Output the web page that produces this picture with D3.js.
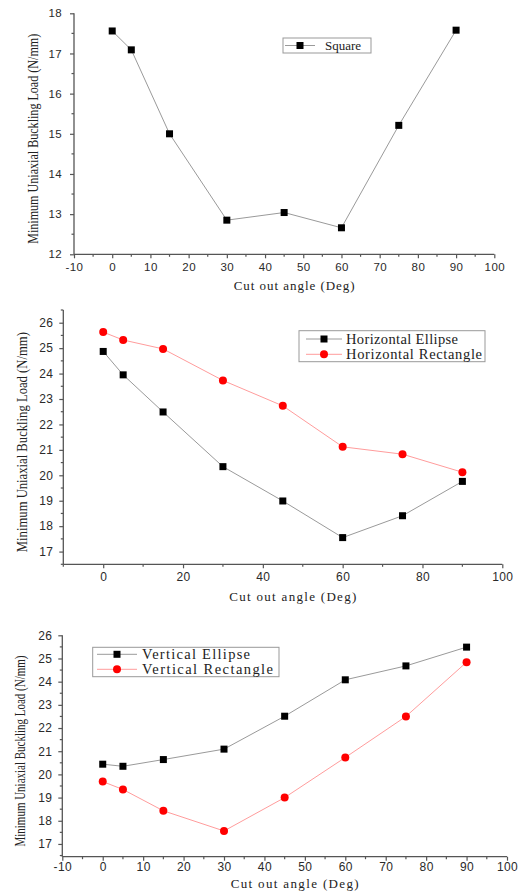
<!DOCTYPE html>
<html>
<head>
<meta charset="utf-8">
<script src="https://cdn.jsdelivr.net/npm/d3@7"></script>
<style>
body { margin: 0; background: #fff; }
.tick-label { font-family: "Liberation Sans", Arial, sans-serif; fill: #2a2a2a; letter-spacing: 0.4px; }
.title { font-family: "Liberation Serif", "Times New Roman", serif; fill: #222; }
</style>
</head>
<body>
<svg id="chart" width="523" height="891"></svg>
<script>
// data
var angles = [0, 5, 15, 30, 45, 60, 75, 90];
var squareLoad = [17.56, 17.09, 15.0, 12.85, 13.04, 12.66, 15.21, 17.58];
var hEllipseLoad = [24.87, 23.95, 22.49, 20.34, 18.99, 17.55, 18.41, 19.76];
var hRectLoad = [25.63, 25.32, 24.97, 23.73, 22.73, 21.12, 20.83, 20.12];
var vEllipseLoad = [20.44, 20.35, 20.64, 21.09, 22.51, 24.08, 24.68, 25.49];
var vRectLoad = [19.69, 19.35, 18.43, 17.56, 19.0, 20.73, 22.5, 24.84];

var xTitle = 'Cut out angle (Deg)';
var yTitle = 'Minimum Uniaxial Buckling Load (N/mm)';

var svg = d3.select('#chart');

var panels = [
  {
    box: {left: 74, right: 494.3, top: 13.3, bottom: 254.3},
    xDomain: [-10, 100], xMajor: d3.range(-10, 101, 10), xMinor: d3.range(-5, 100, 10),
    yDomain: [12, 18], yMajor: d3.range(12, 18.1, 1), yMinor: d3.range(12.5, 18, 1),
    xLabelY: 271, yLabelGap: 12, tickFont: 11.5,
    xTitleY: 290, xTitleLen: 121, yTitleX: 33, yTitleLen: 210, yTitleFont: 14,
    series: [{name: 'Square', values: squareLoad, shape: 'square'}],
    legend: {x: 283, y: 38, w: 88, h: 15, lineX1: 285, lineX2: 315, textX: 325, rowY: [45.5], font: 13}
  },
  {
    box: {left: 63.3, right: 502.3, top: 310, bottom: 564.3},
    xDomain: [-10, 100], xMajor: d3.range(0, 101, 20), xMinor: d3.range(-10, 100, 20),
    yDomain: [16.5, 26.5], yMajor: d3.range(17, 26.1, 1), yMinor: d3.range(16.5, 26.6, 1),
    xLabelY: 581, yLabelGap: 10, tickFont: 12,
    xTitleY: 601, xTitleLen: 127, yTitleX: 22, yTitleLen: 220, yTitleFont: 14.5,
    series: [
      {name: 'Horizontal Ellipse', values: hEllipseLoad, shape: 'square'},
      {name: 'Horizontal Rectangle', values: hRectLoad, shape: 'circle'}
    ],
    legend: {x: 299, y: 330.7, w: 186, h: 31, lineX1: 306, lineX2: 342, textX: 346, rowY: [339, 354.3], font: 14.5, textLen: [112, 136]}
  },
  {
    box: {left: 62.3, right: 507, top: 635.3, bottom: 856.7},
    xDomain: [-10, 100], xMajor: d3.range(-10, 101, 10), xMinor: d3.range(-5, 100, 10),
    yDomain: [16.45, 26], yMajor: d3.range(17, 26.1, 1), yMinor: d3.range(16.5, 26, 1),
    xLabelY: 871, yLabelGap: 10, tickFont: 12,
    xTitleY: 888, xTitleLen: 128, yTitleX: 20, yTitleLen: 191, yTitleFont: 14,
    series: [
      {name: 'Vertical Ellipse', values: vEllipseLoad, shape: 'square'},
      {name: 'Vertical Rectangle', values: vRectLoad, shape: 'circle'}
    ],
    legend: {x: 92.7, y: 647.3, w: 186.3, h: 29.4, lineX1: 97, lineX2: 137, textX: 142, rowY: [654.3, 669.3], font: 14.5, textLen: [108, 131]}
  }
];

var lineColor = {square: '#9a9a9a', circle: '#ff9c9c'};
var markColor = {square: '#000', circle: '#ff0000'};

function drawMarker(g, shape, x, y) {
  if (shape === 'square') {
    g.append('rect').attr('x', x - 3.5).attr('y', y - 3.5).attr('width', 7).attr('height', 7)
      .attr('fill', markColor.square);
  } else {
    g.append('circle').attr('cx', x).attr('cy', y).attr('r', 4).attr('fill', markColor.circle);
  }
}

// plain hyphen for negatives, like the original plot
var fmt = d => String(d);

panels.forEach(function(p) {
  var b = p.box;
  var x = d3.scaleLinear().domain(p.xDomain).range([b.left, b.right]);
  var y = d3.scaleLinear().domain(p.yDomain).range([b.bottom, b.top]);
  var g = svg.append('g');

  // x axis
  var xAxis = g.append('g').attr('transform', `translate(0,${b.bottom})`)
    .call(d3.axisBottom(x).tickValues(p.xMajor).tickSize(4).tickPadding(3).tickFormat(fmt));
  xAxis.append('g').selectAll('line').data(p.xMinor).join('line')
    .attr('x1', d => x(d)).attr('x2', d => x(d)).attr('y1', 0).attr('y2', 2.5);
  xAxis.select('.domain').attr('d', `M${b.left},0H${b.right}`);

  // y axis
  var yAxis = g.append('g').attr('transform', `translate(${b.left},0)`)
    .call(d3.axisLeft(y).tickValues(p.yMajor).tickSize(4).tickPadding(p.yLabelGap - 4).tickFormat(fmt));
  yAxis.append('g').selectAll('line').data(p.yMinor).join('line')
    .attr('x1', 0).attr('x2', -2.5).attr('y1', d => y(d)).attr('y2', d => y(d));
  yAxis.select('.domain').attr('d', `M0,${b.top}V${b.bottom}`);

  [xAxis, yAxis].forEach(function(a) {
    a.selectAll('.domain').attr('stroke', '#555').attr('stroke-width', 1.3);
    a.selectAll('line').attr('stroke', '#555').attr('stroke-width', 1.2);
    a.selectAll('text').attr('class', 'tick-label').attr('font-size', p.tickFont);
  });
  xAxis.selectAll('.tick text').attr('y', null).attr('dy', null)
    .attr('transform', `translate(0,${p.xLabelY - b.bottom})`);

  // axis titles
  g.append('text').attr('class', 'title')
    .attr('x', (b.left + b.right) / 2 + 10).attr('y', p.xTitleY)
    .attr('text-anchor', 'middle').attr('font-size', 13)
    .attr('textLength', p.xTitleLen).attr('lengthAdjust', 'spacing')
    .text(xTitle);
  g.append('text').attr('class', 'title')
    .attr('transform', `translate(${p.yTitleX},${(b.top + b.bottom) / 2 + 5}) rotate(-90)`)
    .attr('text-anchor', 'middle').attr('dominant-baseline', 'central')
    .attr('font-size', p.yTitleFont)
    .attr('textLength', p.yTitleLen).attr('lengthAdjust', 'spacingAndGlyphs')
    .text(yTitle);

  // series
  p.series.forEach(function(s) {
    var pts = angles.map((a, i) => [a, s.values[i]]);
    g.append('path').datum(pts)
      .attr('fill', 'none').attr('stroke', lineColor[s.shape]).attr('stroke-width', 1)
      .attr('d', d3.line().x(d => x(d[0])).y(d => y(d[1])));
    var mg = g.append('g');
    pts.forEach(d => drawMarker(mg, s.shape, x(d[0]), y(d[1])));
  });

  // legend
  var L = p.legend;
  var lg = g.append('g');
  lg.append('rect').attr('x', L.x).attr('y', L.y).attr('width', L.w).attr('height', L.h)
    .attr('fill', '#fff').attr('stroke', '#999').attr('stroke-width', 1);
  p.series.forEach(function(s, i) {
    var ry = L.rowY[i];
    lg.append('line').attr('x1', L.lineX1).attr('x2', L.lineX2).attr('y1', ry).attr('y2', ry)
      .attr('stroke', lineColor[s.shape]).attr('stroke-width', 1);
    drawMarker(lg, s.shape, (L.lineX1 + L.lineX2) / 2, ry);
    var t = lg.append('text').attr('class', 'title').attr('x', L.textX).attr('y', ry)
      .attr('dominant-baseline', 'central').attr('font-size', L.font).text(s.name);
    if (L.textLen) t.attr('textLength', L.textLen[i]).attr('lengthAdjust', 'spacing');
  });
});
</script>
</body>
</html>
